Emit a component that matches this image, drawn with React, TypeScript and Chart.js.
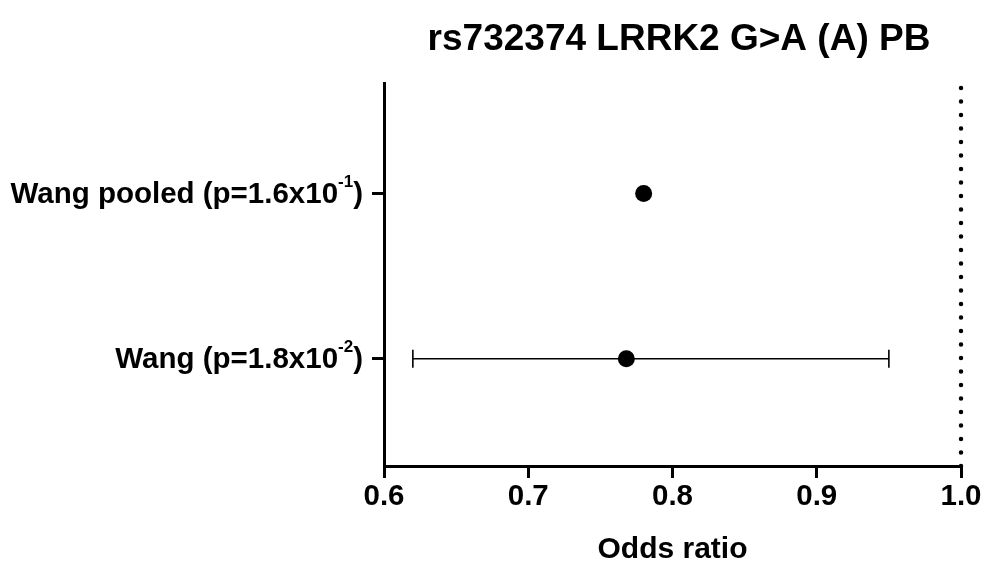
import React, { useEffect, useRef } from "react";
import { Chart, registerables } from "chart.js";

Chart.register(...registerables);

const chartTitle = "rs732374 LRRK2 G>A (A) PB";
const axisTitle = "Odds ratio";
const categories = ["Wang pooled", "Wang"];
const pBase = ["1.6x10", "1.8x10"];
const pExp = ["-1", "-2"];
const oddsRatio = [0.78, 0.768];
const ciLow: (number | null)[] = [null, 0.62];
const ciHigh: (number | null)[] = [null, 0.95];
const xTicks = [0.6, 0.7, 0.8, 0.9, 1.0];
const refLine = 1.0;

const FONT = "'Liberation Sans', Arial, sans-serif";

export default function App() {
  const ref = useRef<HTMLCanvasElement>(null);
  useEffect(() => {
    if (!ref.current) return;
    const overlay = {
      id: "overlay",
      beforeDatasetsDraw(chart: any) {
        const { ctx, chartArea } = chart;
        const xs = chart.scales.x;
        const ys = chart.scales.y;
        ctx.save();
        const rx = xs.getPixelForValue(refLine);
        ctx.strokeStyle = "#000";
        ctx.lineWidth = 4.5;
        ctx.lineCap = "round";
        ctx.setLineDash([0, 13.5]);
        ctx.beginPath();
        ctx.moveTo(rx, chartArea.bottom);
        ctx.lineTo(rx, chartArea.top + 2);
        ctx.stroke();
        ctx.setLineDash([]);
        ctx.lineCap = "butt";
        ctx.lineWidth = 1.6;
        categories.forEach((_, i) => {
          const lo = ciLow[i];
          const hi = ciHigh[i];
          if (lo == null || hi == null) return;
          const y = ys.getPixelForValue(i);
          const x1 = xs.getPixelForValue(lo);
          const x2 = xs.getPixelForValue(hi);
          ctx.beginPath();
          ctx.moveTo(x1, y);
          ctx.lineTo(x2, y);
          ctx.moveTo(x1, y - 9);
          ctx.lineTo(x1, y + 9);
          ctx.moveTo(x2, y - 9);
          ctx.lineTo(x2, y + 9);
          ctx.stroke();
        });
        ctx.restore();
      },
      afterDraw(chart: any) {
        const { ctx, chartArea } = chart;
        const ys = chart.scales.y;
        ctx.save();
        ctx.fillStyle = "#000";
        ctx.font = `bold 37px ${FONT}`;
        ctx.textAlign = "center";
        ctx.textBaseline = "middle";
        ctx.fillText(chartTitle, 679, 40);
        const size = 29.5;
        const supSize = 17;
        categories.forEach((c, i) => {
          const y = ys.getPixelForValue(i) + 1;
          let right = chartArea.left - 12 - 9;
          ctx.textAlign = "right";
          ctx.textBaseline = "middle";
          ctx.font = `bold ${size}px ${FONT}`;
          ctx.fillText(")", right, y);
          right -= ctx.measureText(")").width;
          ctx.font = `bold ${supSize}px ${FONT}`;
          ctx.fillText(pExp[i], right, y - 12);
          right -= ctx.measureText(pExp[i]).width;
          ctx.font = `bold ${size}px ${FONT}`;
          ctx.fillText(`${c} (p=${pBase[i]}`, right, y);
        });
        ctx.restore();
      },
    };
    const chart = new Chart(ref.current, {
      type: "scatter",
      data: {
        datasets: [
          {
            data: oddsRatio.map((v, i) => ({ x: v, y: i })),
            backgroundColor: "#000",
            borderWidth: 0,
            pointRadius: 8.5,
            pointHoverRadius: 8.5,
          },
        ],
      },
      options: {
        animation: false,
        responsive: false,
        maintainAspectRatio: false,
        layout: { padding: { top: 83, right: 29, left: 0, bottom: 0 } },
        plugins: { legend: { display: false }, tooltip: { enabled: false }, title: { display: false } },
        scales: {
          x: {
            type: "linear",
            min: xTicks[0],
            max: xTicks[xTicks.length - 1],
            afterBuildTicks: (s: any) => {
              s.ticks = xTicks.map((v) => ({ value: v }));
            },
            afterFit: (s: any) => {
              s.height = 105;
            },
            ticks: {
              autoSkip: false,
              maxRotation: 0,
              color: "#000",
              font: { family: FONT, size: 29.5, weight: "bold" },
              padding: 1,
              callback: (v: any) => Number(v).toFixed(1),
            },
            grid: { drawOnChartArea: false, drawTicks: true, tickLength: 12, lineWidth: 3, color: "#000" },
            border: { display: true, color: "#000", width: 3 },
            title: {
              display: true,
              text: axisTitle,
              color: "#000",
              font: { family: FONT, size: 30, weight: "bold" },
              padding: { top: 0, bottom: 3 },
            },
          },
          y: {
            type: "linear",
            min: -0.67,
            max: 1.65,
            reverse: true,
            afterBuildTicks: (s: any) => {
              s.ticks = categories.map((_, i) => ({ value: i }));
            },
            afterFit: (s: any) => {
              s.width = 384;
            },
            ticks: { autoSkip: false, callback: () => "", color: "#000" },
            grid: { drawOnChartArea: false, drawTicks: true, tickLength: 12, lineWidth: 3, color: "#000" },
            border: { display: true, color: "#000", width: 3 },
          },
        },
      },
      plugins: [overlay],
    });
    return () => chart.destroy();
  }, []);
  return (
    <div style={{ position: "fixed", left: 0, top: 0, width: 990, height: 571, background: "#fff" }}>
      <canvas ref={ref} width={990} height={571} style={{ width: 990, height: 571, display: "block" }} />
    </div>
  );
}
